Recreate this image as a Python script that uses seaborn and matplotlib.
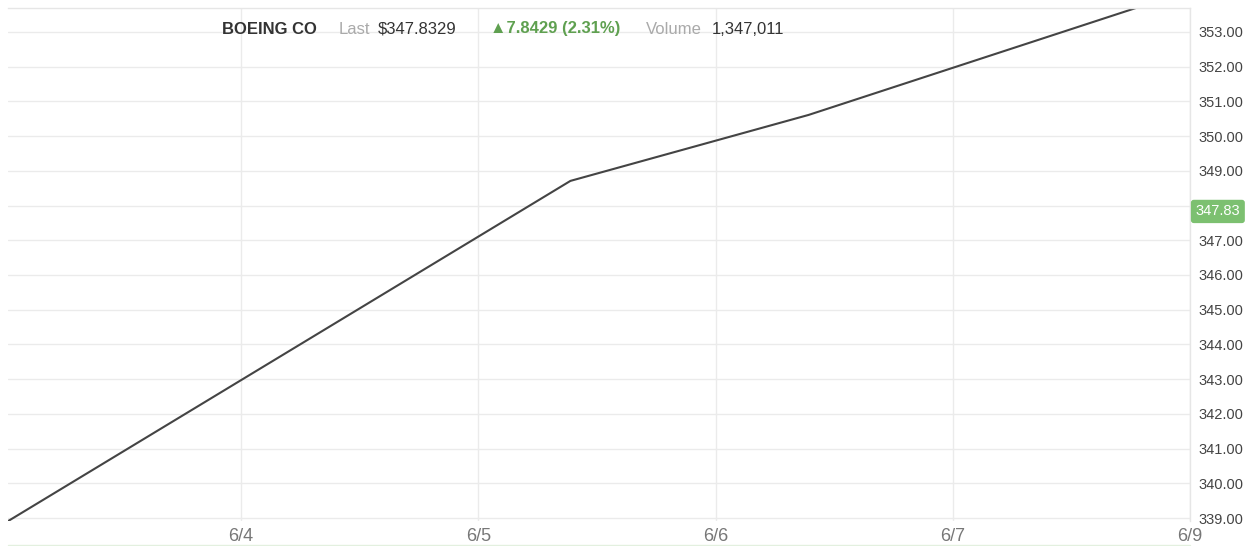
import matplotlib
matplotlib.use("Agg")
import matplotlib.pyplot as plt
from matplotlib.lines import Line2D
import seaborn as sns
import pandas as pd

# Price path (x in trading-day units, 6/4 = 0)
day_pos = [-0.983, 1.388, 2.392, 3.772]
prices = [338.91, 348.71, 350.61, 353.69]

date_ticks = [0, 1, 2, 3, 4]
date_labels = ["6/4", "6/5", "6/6", "6/7", "6/9"]
price_ticks = list(range(339, 354))

last_price = 347.83
header_texts = ["BOEING CO", "Last", "$347.8329", "\u25b27.8429 (2.31%)", "Volume", "1,347,011"]
header_colors = ["#333333", "#aaaaaa", "#333333", "#5fa050", "#aaaaaa", "#333333"]
header_weights = ["bold", "normal", "normal", "bold", "normal", "normal"]
header_x = [222, 339, 378, 490, 646, 712]

sns.set_theme(style="white")
plt.rcParams["font.family"] = ["Liberation Sans", "DejaVu Sans"]

df = pd.DataFrame({"day": day_pos, "price": prices})

fig = plt.figure(figsize=(12.46, 5.46), dpi=100)
ax = fig.add_axes([8 / 1246, 1 - 521 / 546, (1190 - 8) / 1246, (521 - 8) / 546])

sns.lineplot(data=df, x="day", y="price", ax=ax, color="#444444", linewidth=1.5)

ax.set_xlim(-0.983, 4.0)
ax.set_ylim(338.914, 353.69)
ax.set_xticks(date_ticks)
ax.set_xticklabels(date_labels)
ax.set_yticks(price_ticks)
# the 348 label sits under the current-price badge
ax.set_yticklabels(["" if abs(v - last_price) < 0.5 else f"{v:.2f}" for v in price_ticks])
ax.yaxis.tick_right()
ax.tick_params(axis="y", length=0, pad=6, labelsize=10.5, labelcolor="#444444")
ax.tick_params(axis="x", length=0, pad=5, labelsize=13, labelcolor="#777777")
ax.set_xlabel("")
ax.set_ylabel("")
ax.grid(True, color="#ebebeb", linewidth=1)
for side in ["left", "bottom"]:
    ax.spines[side].set_visible(False)
for side in ["top", "right"]:
    ax.spines[side].set_visible(True)
    ax.spines[side].set_color("#e6e6e6")
    ax.spines[side].set_linewidth(1)

# Current price badge on the right axis
ax.annotate(f"{last_price:.2f}", xy=(1.0, last_price), xycoords=("axes fraction", "data"),
            xytext=(4, 0), textcoords="offset points", ha="left", va="center",
            fontsize=10.5, color="white",
            bbox=dict(boxstyle="round,pad=0.32,rounding_size=0.2", fc="#7cc070", ec="none"))

# Header line
for txt, col, wt, xp in zip(header_texts, header_colors, header_weights, header_x):
    fig.text(xp / 1246, 1 - 29 / 546, txt, color=col, fontweight=wt, fontsize=12,
             ha="left", va="center")

fig.add_artist(Line2D([8 / 1246, 1190 / 1246], [1 - 545 / 546] * 2,
                      transform=fig.transFigure, color="#e3f0df", linewidth=1))

fig.savefig("out.png", dpi=100, facecolor="white")
